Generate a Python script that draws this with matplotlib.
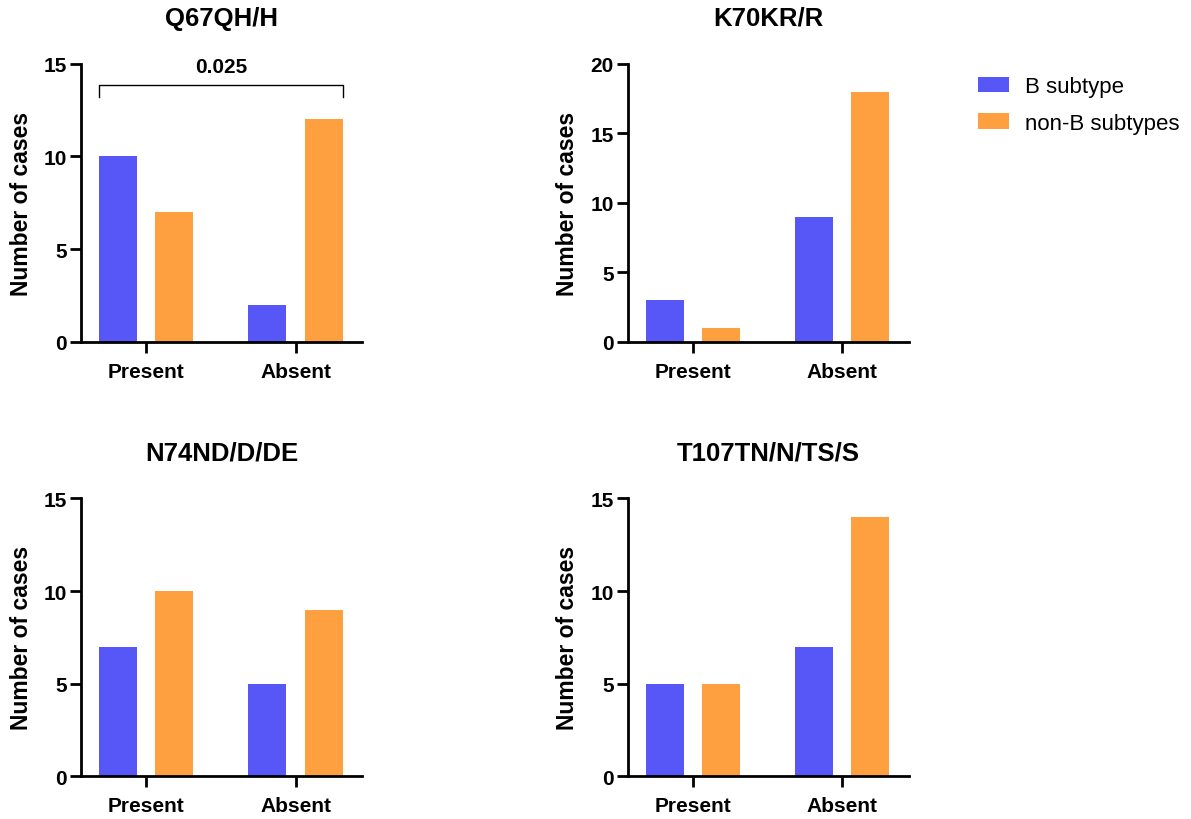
import matplotlib
matplotlib.use("Agg")
import matplotlib.pyplot as plt
from matplotlib.patches import Patch
import numpy as np

plt.rcParams['font.family'] = ['Liberation Sans', 'DejaVu Sans']

groups = ["Present", "Absent"]
series_names = ["B subtype", "non-B subtypes"]
colors = ["#5757F7", "#FFA040"]

titles = ["Q67QH/H", "K70KR/R", "N74ND/D/DE", "T107TN/N/TS/S"]
b_counts = [[10, 2], [3, 9], [7, 5], [5, 7]]
nonb_counts = [[7, 12], [1, 18], [10, 9], [5, 14]]
y_max = [15, 20, 15, 15]
y_step = 5

p_value = "0.025"

fig = plt.figure(figsize=(11.91, 8.2), dpi=100)

# axes boxes in figure fractions: [left, bottom, width, height]
boxes = [
    [0.068, 0.582, 0.236, 0.339],
    [0.527, 0.582, 0.236, 0.339],
    [0.068, 0.052, 0.236, 0.339],
    [0.527, 0.052, 0.236, 0.339],
]

x = np.arange(len(groups))
bar_w = 0.255
offset = 0.188

axes = []
for i, box in enumerate(boxes):
    ax = fig.add_axes(box)
    axes.append(ax)
    ax.bar(x - offset, b_counts[i], bar_w, color=colors[0])
    ax.bar(x + offset, nonb_counts[i], bar_w, color=colors[1])

    ax.set_xlim(-0.435, 1.445)
    ax.set_ylim(0, y_max[i])
    ax.set_yticks(np.arange(0, y_max[i] + 1, y_step))
    ax.set_xticks(x)
    ax.set_xticklabels(groups)

    for side in ["top", "right"]:
        ax.spines[side].set_visible(False)
    for side in ["left", "bottom"]:
        ax.spines[side].set_linewidth(2.0)
    ax.tick_params(axis="both", width=2.0, length=8, labelsize=15)
    ax.tick_params(axis="y", pad=2)
    ax.tick_params(axis="x", pad=6.5)
    for lbl in ax.get_xticklabels() + ax.get_yticklabels():
        lbl.set_fontweight("bold")

    ax.set_ylabel("Number of cases", fontsize=16.5, fontweight="bold", labelpad=8)
    ax.set_title(titles[i], fontsize=18.5, fontweight="bold", pad=28)

# significance bracket over the first panel
ax = axes[0]
x_left = x[0] - offset - bar_w / 2
x_right = x[1] + offset + bar_w / 2
y_top, y_leg = 13.85, 13.2
ax.plot([x_left, x_left, x_right, x_right], [y_leg, y_top, y_top, y_leg],
        color="black", lw=1.0, clip_on=False)
ax.text((x_left + x_right) / 2, 14.85, p_value, ha="center", va="center",
        fontsize=15, fontweight="bold", clip_on=False)

handles = [Patch(facecolor=c, label=n) for c, n in zip(colors, series_names)]
fig.legend(handles=handles, loc="upper left", bbox_to_anchor=(0.8136, 0.9165),
           borderaxespad=0, frameon=False, fontsize=16, handlelength=1.4,
           handleheight=0.7, handletextpad=0.72, labelspacing=0.7)

fig.savefig("out.png", dpi=100)
